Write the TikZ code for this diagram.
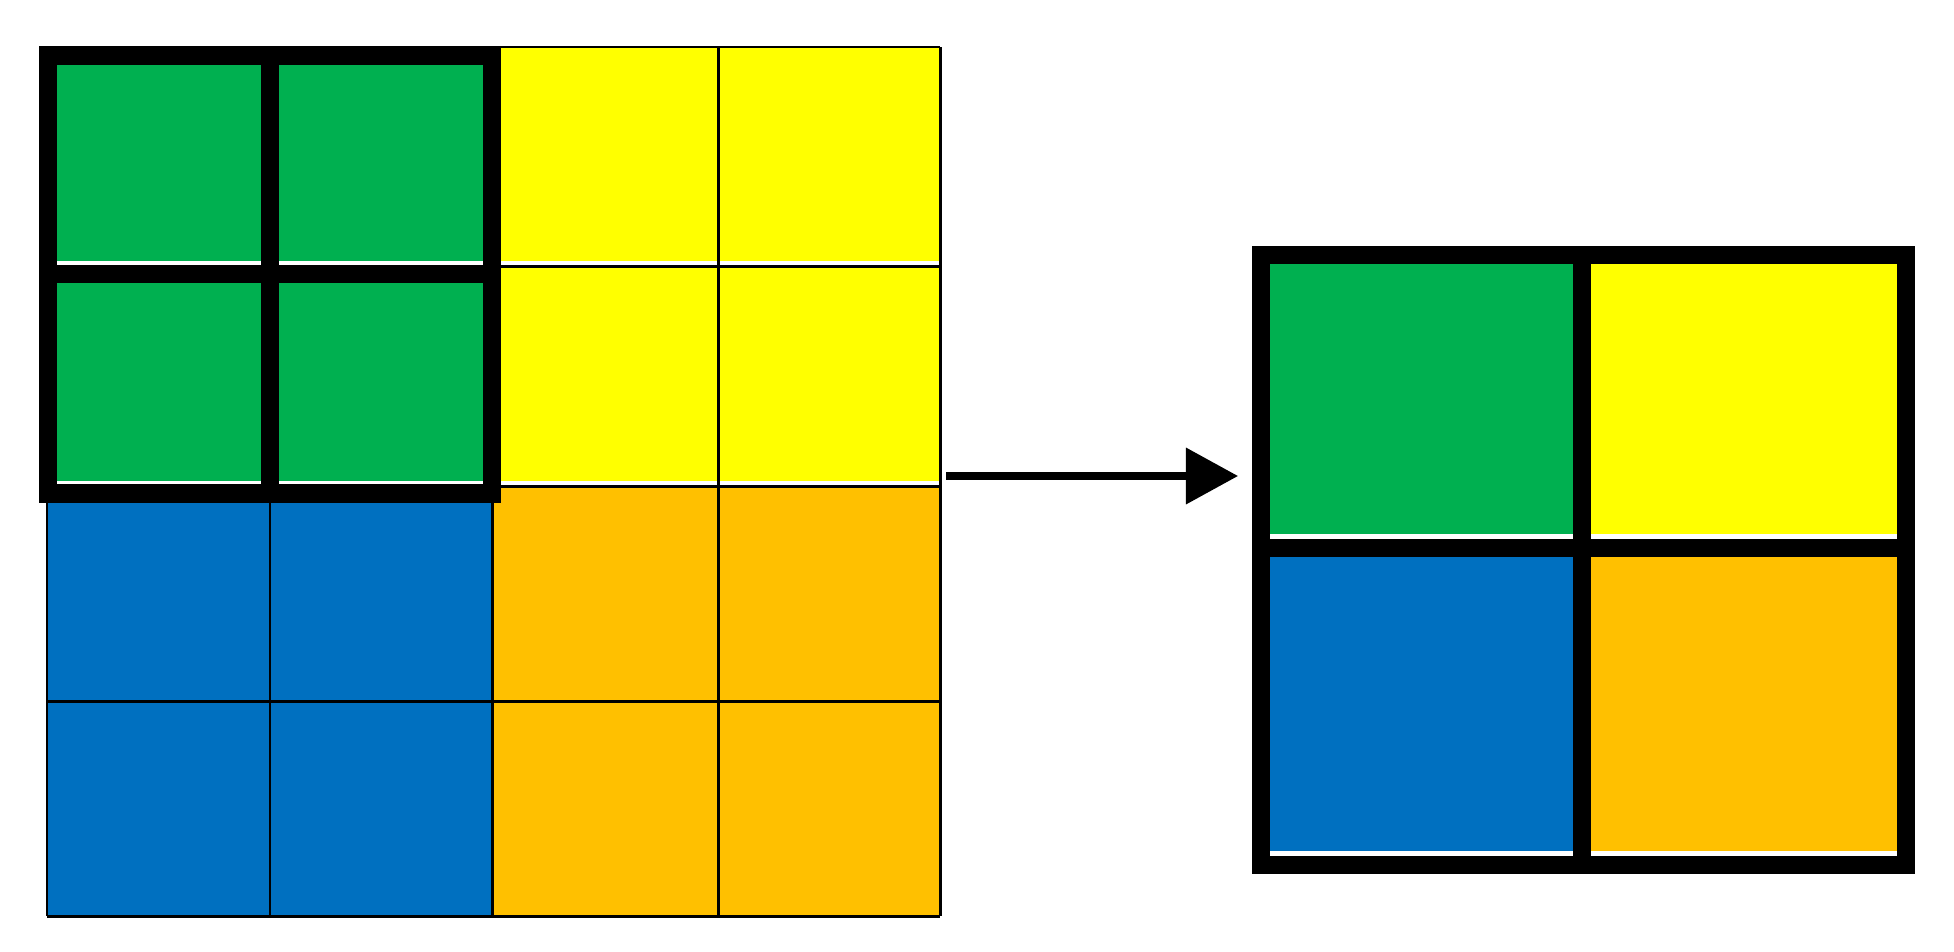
\documentclass[tikz,border=0pt]{standalone}
\usepackage{tikz}
\usetikzlibrary{arrows.meta}
\definecolor{cellgreen}{HTML}{00B050}
\definecolor{cellyellow}{HTML}{FFFF00}
\definecolor{cellblue}{HTML}{0070C0}
\definecolor{cellorange}{HTML}{FFC000}
\tikzset{
	thingrid/.style={line width=0.85pt},
	poolframe/.style={line width=5.2pt},
	gap/.style={fill=white}
}

\begin{document}
\begin{tikzpicture}[x=0.01cm,y=-0.01cm]
		\useasboundingbox (0,0) rectangle (1954,951);

		% input 4x4
		\fill[cellgreen] (47,47) rectangle (492,486);
		\fill[cellyellow] (492,47) rectangle (940,486);
		\fill[cellblue] (47,486) rectangle (492,916);
		\fill[cellorange] (492,486) rectangle (940,916);
		\foreach \y in {266,486}
			\fill[gap] (47,\y-5) rectangle (940,\y-1.5);
		\foreach \x in {47,270,492,718,940}
			\draw[thingrid] (\x,47) -- (\x,916);
		\foreach \y in {47,266,486,701,916}
			\draw[thingrid] (47,\y) -- (940,\y);

		% pooling window
		\draw[poolframe] (48,55.5) rectangle (492,493.5);
		\draw[poolframe] (270,55.5) -- (270,493.5);
		\draw[poolframe] (48,274) -- (492,274);

		% arrow
		\coordinate (in) at (946,476);
		\coordinate (out) at (1238,476);
		\draw[-{Triangle[length=0.52cm,width=0.55cm]},line width=2pt] (in) -- (out);

		% output 2x2
		\fill[cellgreen] (1261,255) rectangle (1581.7,548);
		\fill[cellyellow] (1581.7,255) rectangle (1906,548);
		\fill[cellblue] (1261,548) rectangle (1581.7,864.7);
		\fill[cellorange] (1581.7,548) rectangle (1906,864.7);
		\fill[gap] (1261,534) rectangle (1906,539);
		\fill[gap] (1261,851) rectangle (1906,856);
		\draw[poolframe] (1261,255) rectangle (1906,864.7);
		\draw[poolframe] (1581.7,255) -- (1581.7,864.7);
		\draw[poolframe] (1261,548) -- (1906,548);
	\end{tikzpicture}
\end{document}
